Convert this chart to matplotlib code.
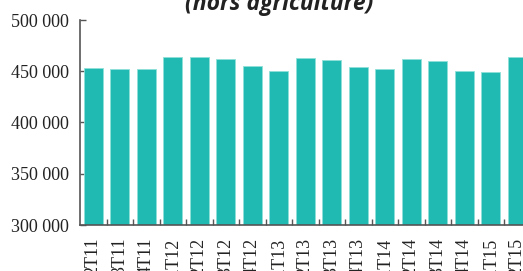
import matplotlib
matplotlib.use("Agg")
import matplotlib.pyplot as plt
import numpy as np

categories = ["2T11", "3T11", "4T11", "1T12", "2T12", "3T12", "4T12", "1T13",
              "2T13", "3T13", "4T13", "1T14", "2T14", "3T14", "4T14", "1T15", "2T15"]
values = [452900, 452500, 451900, 464200, 463900, 462300, 454800, 450600,
          462600, 461300, 454100, 451900, 462300, 460300, 450200, 449600, 463900]
y_ticks = [300000, 350000, 400000, 450000, 500000]
y_labels = ["300 000", "350 000", "400 000", "450 000", "500 000"]
title = "(hors agriculture)"

W, H = 523, 271
fig = plt.figure(figsize=(W / 100, H / 100), dpi=100)
unit_px = 26.5
ncat = len(categories)
left_px = 80
width_px = ncat * unit_px
ax = fig.add_axes([left_px / W, 46 / H, width_px / W, 205 / H])

x = np.arange(ncat)
ax.bar(x, values, width=0.72, color="#20bab2", edgecolor="#8fe0da", linewidth=0.6, zorder=2)
ax.set_xlim(-0.5, ncat - 0.5)
ax.set_ylim(300000, 500000)

ax.set_yticks(y_ticks)
ax.set_yticklabels(y_labels, fontsize=13, family="Liberation Serif", color="#222222")
ax.tick_params(axis="y", direction="in", length=4, width=1, color="#555555", pad=8)

ax.set_xticks(x)
ax.set_xticklabels(categories, rotation=90, fontsize=13, family="Liberation Serif",
                   color="#222222", va="top", ha="center")
ax.set_xticks(np.arange(ncat) + 0.5, minor=True)
ax.tick_params(axis="x", which="major", length=0, pad=9)
ax.tick_params(axis="x", which="minor", direction="in", length=4, width=1, color="#555555")

for s in ["top", "right"]:
    ax.spines[s].set_visible(False)
for s in ["left", "bottom"]:
    ax.spines[s].set_color("#555555")
    ax.spines[s].set_linewidth(1.2)

fig.text(279 / W, 1 - 10.5 / H, title, ha="center", va="baseline", fontsize=16.5,
         fontweight="bold", fontstyle="italic", family="Open Sans", color="#222222")

fig.savefig("out.png", dpi=100)
